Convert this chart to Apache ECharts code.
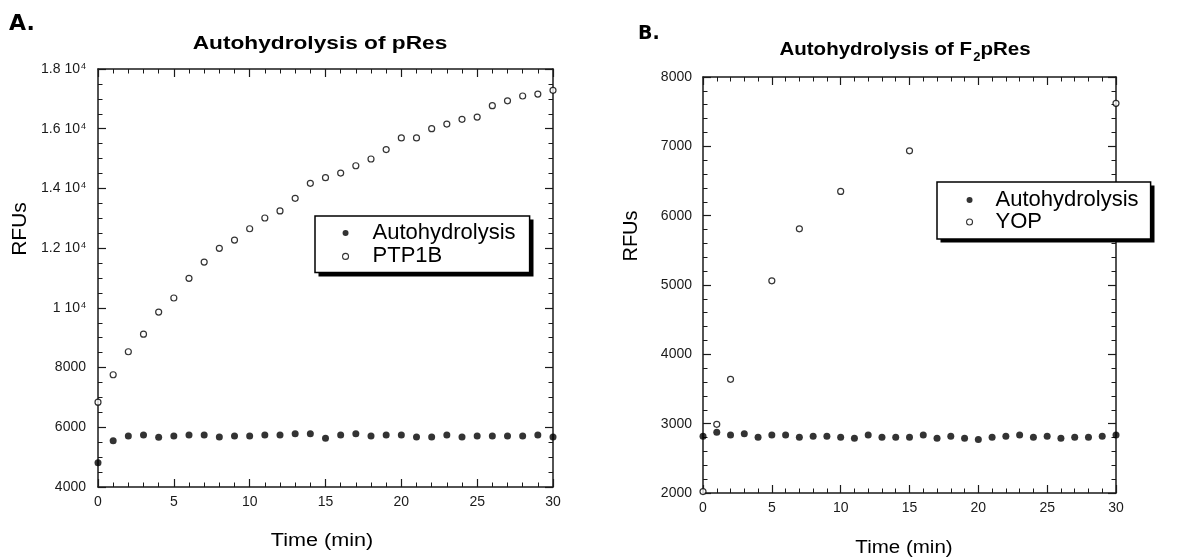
<!DOCTYPE html>
<html>
<head>
<meta charset="utf-8">
<script src="https://cdn.jsdelivr.net/npm/echarts@6/dist/echarts.min.js"></script>
<style>
html,body{margin:0;padding:0;background:#fff;}
#chart{width:1177px;height:559px;}
</style>
</head>
<body>
<div id="chart"></div>
<script>
// ---- Data ----
const timeA = [0,1,2,3,4,5,6,7,8,9,10,11,12,13,14,15,16,17,18,19,20,21,22,23,24,25,26,27,28,29,30];
const autoA = [4815,5550,5710,5740,5665,5710,5740,5740,5675,5710,5710,5740,5740,5785,5785,5630,5740,5785,5710,5740,5740,5675,5675,5740,5675,5710,5710,5710,5710,5740,5675];
const ptp1b = [6840,7760,8530,9120,9860,10330,10990,11535,11995,12270,12650,13010,13245,13670,14170,14360,14515,14760,14985,15300,15690,15690,16000,16155,16315,16390,16770,16935,17095,17160,17285];

const timeB = [0,1,2,3,4,5,6,7,8,9,10,11,12,13,14,15,16,17,18,19,20,21,22,23,24,25,26,27,28,29,30];
const autoB = [2820,2875,2835,2855,2805,2835,2835,2805,2820,2820,2805,2790,2835,2805,2805,2805,2835,2790,2820,2790,2770,2805,2820,2835,2805,2820,2790,2805,2805,2820,2835];
const timeYop = [0,1,2,5,7,10,15,30];
const yop = [2020,2990,3640,5060,5810,6350,6935,7620];

const leftYTicks = [4000,6000,8000,10000,12000,14000,16000,18000];
const leftYTickLabels = ['4000','6000','8000','1 10^4','1.2 10^4','1.4 10^4','1.6 10^4','1.8 10^4'];
const rightYTicks = [2000,3000,4000,5000,6000,7000,8000];
const rightYTickLabels = ['2000','3000','4000','5000','6000','7000','8000'];

const FONT = 'Liberation Sans, Arial, Helvetica, sans-serif';
const INK = '#1a1a1a';

function leftYFormatter(v){
  const i = leftYTicks.indexOf(v);
  if (i < 0) return '';
  const s = leftYTickLabels[i];
  if (s.indexOf('^') >= 0) {
    const p = s.split('^');
    return '{b|' + p[0] + '}{sup|' + p[1] + '}';
  }
  return '{b|' + s + '}';
}
function rightYFormatter(v){
  const i = rightYTicks.indexOf(v);
  return i < 0 ? '' : rightYTickLabels[i];
}

function xAxisDef(grid, pos, showLabel){
  return {
    type:'value', gridIndex:grid, position:pos, min:0, max:30, interval:5,
    axisLine:{show:true, onZero:false, lineStyle:{color:INK, width:1.5}},
    axisTick:{show:true, inside:true, length:8, lineStyle:{color:INK, width:1.2}},
    minorTick:{show:true, splitNumber:5, length:4.5, lineStyle:{color:INK, width:1}},
    axisLabel:{show:showLabel, color:INK, fontSize:14, fontFamily:FONT, margin:8},
    splitLine:{show:false}, minorSplitLine:{show:false}
  };
}
function yAxisDef(grid, pos, showLabel, min, max, interval, minorSplit, formatter, margin){
  return {
    type:'value', gridIndex:grid, position:pos, min:min, max:max, interval:interval,
    axisLine:{show:true, onZero:false, lineStyle:{color:INK, width:1.5}},
    axisTick:{show:true, inside:true, length:8, lineStyle:{color:INK, width:1.2}},
    minorTick:{show:true, splitNumber:minorSplit, length:4.5, lineStyle:{color:INK, width:1}},
    axisLabel:{show:showLabel, color:INK, fontSize:14, fontFamily:FONT, margin:margin, formatter:formatter,
      rich:{
        b:{fontSize:14, fontFamily:FONT, color:INK},
        sup:{fontSize:9, fontFamily:FONT, color:INK, verticalAlign:'top', padding:[0,0,0,1]}
      }},
    splitLine:{show:false}, minorSplitLine:{show:false}
  };
}

const filledStyle = {color:'#000'};
const openStyle = {color:'#fff', borderColor:'#000', borderWidth:1.2};

function legendDef(left, top, names, padding, gap, textPad){
  return {
    left:left, top:top, orient:'vertical', selectedMode:false, z:6,
    data:[
      {name:names[0], icon:'circle', itemStyle:{color:'#000', borderWidth:0}},
      {name:names[1], icon:'circle', itemStyle:{color:'#fff', borderColor:'#000', borderWidth:1.1}}
    ],
    itemWidth:6, itemHeight:6, itemGap:gap, padding:padding,
    backgroundColor:'#fff', borderColor:'#000', borderWidth:1.5, borderRadius:0,
    textStyle:{fontSize:22, fontFamily:FONT, color:'#000', lineHeight:22, padding:[0,0,0,textPad]}
  };
}

const chart = echarts.init(document.getElementById('chart'), null, {renderer:'canvas'});
chart.setOption({
  animation:false,
  backgroundColor:'#fff',
  textStyle:{fontFamily:FONT},
  grid:[
    {left:98, top:69, width:455, height:418, containLabel:false},
    {left:703, top:77, width:413, height:416, containLabel:false}
  ],
  xAxis:[
    xAxisDef(0,'bottom',true),
    xAxisDef(0,'top',false),
    xAxisDef(1,'bottom',true),
    xAxisDef(1,'top',false)
  ],
  yAxis:[
    yAxisDef(0,'left',true,4000,18000,2000,4,leftYFormatter,12),
    yAxisDef(0,'right',false,4000,18000,2000,4,leftYFormatter,12),
    yAxisDef(1,'left',true,2000,8000,1000,5,rightYFormatter,11),
    yAxisDef(1,'right',false,2000,8000,1000,5,rightYFormatter,11)
  ],
  legend:[
    legendDef(315, 216, ['Autohydrolysis','PTP1B'], [6,14,5,27], 1.4, 19),
    legendDef(937, 182, ['Autohydrolysis','YOP'], [7,12,6,29], 0, 18)
  ],
  series:[
    {name:'Autohydrolysis', type:'scatter', xAxisIndex:0, yAxisIndex:0, clip:false,
     symbol:'circle', symbolSize:7, itemStyle:filledStyle,
     data:timeA.map((t,i)=>[t, autoA[i]])},
    {name:'PTP1B', type:'scatter', xAxisIndex:0, yAxisIndex:0, clip:false,
     symbol:'circle', symbolSize:6, itemStyle:openStyle,
     data:timeA.map((t,i)=>[t, ptp1b[i]])},
    {name:'Autohydrolysis', type:'scatter', xAxisIndex:2, yAxisIndex:2, clip:false,
     symbol:'circle', symbolSize:7, itemStyle:filledStyle,
     data:timeB.map((t,i)=>[t, autoB[i]])},
    {name:'YOP', type:'scatter', xAxisIndex:2, yAxisIndex:2, clip:false,
     symbol:'circle', symbolSize:6, itemStyle:openStyle,
     data:timeYop.map((t,i)=>[t, yop[i]])}
  ],
  graphic:[
    // legend drop shadows
    {type:'rect', z:5, shape:{x:318.5, y:219.5, width:215, height:57}, style:{fill:'#000'}},
    {type:'rect', z:5, shape:{x:940.5, y:185.5, width:214, height:57}, style:{fill:'#000'}},
    {type:'text', x:9, y:24, style:{text:'A.', fontSize:22, fontWeight:'bold', fontFamily:'DejaVu Sans, Verdana, sans-serif', fill:'#000', align:'left', verticalAlign:'middle'}},
    {type:'text', x:638, y:34, style:{text:'B.', fontSize:19, fontWeight:'bold', fontFamily:'DejaVu Sans, Verdana, sans-serif', fill:'#000', align:'left', verticalAlign:'middle'}},
    {type:'text', x:320, y:44, scaleX:1.26, style:{text:'Autohydrolysis of pRes', fontSize:18, fontWeight:'bold', fontFamily:FONT, fill:'#000', align:'center', verticalAlign:'middle'}},
    {type:'text', x:905, y:50, scaleX:1.08, style:{
      text:'{t|Autohydrolysis of F}{s|2}{t|pRes}', align:'center', verticalAlign:'middle',
      rich:{
        t:{fontSize:19, fontWeight:'bold', fontFamily:FONT, fill:'#000', lineHeight:20, verticalAlign:'top'},
        s:{fontSize:12, fontWeight:'bold', fontFamily:FONT, fill:'#000', lineHeight:12, verticalAlign:'top', padding:[12,0,0,1]}
      }}},
    {type:'text', x:20, y:229, rotation:Math.PI/2, style:{text:'RFUs', fontSize:21, fontFamily:FONT, fill:'#000', align:'center', verticalAlign:'middle'}},
    {type:'text', x:631, y:236, rotation:Math.PI/2, style:{text:'RFUs', fontSize:20, fontFamily:FONT, fill:'#000', align:'center', verticalAlign:'middle'}},
    {type:'text', x:322, y:541, scaleX:1.2, style:{text:'Time (min)', fontSize:18, fontFamily:FONT, fill:'#000', align:'center', verticalAlign:'middle'}},
    {type:'text', x:904, y:548, scaleX:1.14, style:{text:'Time (min)', fontSize:18, fontFamily:FONT, fill:'#000', align:'center', verticalAlign:'middle'}}
  ]
});
</script>
</body>
</html>
